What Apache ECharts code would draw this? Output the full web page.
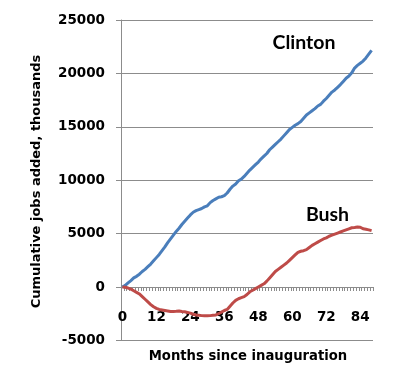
<!DOCTYPE html>
<html><head><meta charset="utf-8">
<script src="https://cdn.jsdelivr.net/npm/echarts@6/dist/echarts.min.js"></script>
<style>html,body{margin:0;padding:0;background:#fff}#c{width:400px;height:389px}</style>
</head><body><div id="c"></div>
<script>
const months = Array.from({length: 89}, (_, i) => String(i));
const clinton = [0,150,380,600,850,1000,1200,1450,1650,1900,2150,2450,2750,3050,3400,3750,4150,4500,4850,5200,5500,5850,6150,6450,6750,7000,7150,7250,7350,7500,7600,7900,8100,8250,8400,8450,8550,8800,9150,9450,9650,9950,10100,10350,10650,10950,11200,11450,11700,12000,12250,12500,12850,13100,13350,13600,13850,14150,14450,14750,14950,15150,15300,15500,15800,16100,16300,16500,16700,16950,17100,17400,17650,17950,18250,18450,18700,18950,19250,19550,19750,20050,20500,20750,20950,21150,21450,21800,22150];
const bush = [0,-30,-100,-200,-350,-500,-650,-900,-1150,-1400,-1650,-1850,-2000,-2100,-2150,-2200,-2250,-2300,-2300,-2280,-2250,-2300,-2320,-2380,-2450,-2550,-2620,-2650,-2680,-2700,-2700,-2680,-2650,-2620,-2500,-2350,-2200,-2100,-1800,-1500,-1250,-1100,-1000,-900,-700,-450,-300,-150,0,150,300,550,850,1150,1450,1650,1850,2050,2250,2500,2750,3000,3250,3350,3400,3500,3700,3900,4050,4200,4350,4500,4600,4750,4850,4950,5050,5150,5250,5350,5450,5550,5580,5620,5600,5450,5400,5350,5280];
const seriesNames = ['Clinton', 'Bush'];
const yTitle = 'Cumulative jobs added, thousands';
const xTitle = 'Months since inauguration';

const chart = echarts.init(document.getElementById('c'), null, {renderer: 'canvas'});
const gray = '#8c8c8c';
const tickFont = {fontFamily: 'DejaVu Sans', fontWeight: 'bold', fontSize: 13.5, color: '#000'};
chart.setOption({
  animation: false,
  grid: {left: 121, right: 27, top: 20, bottom: 48.6},
  xAxis: [{
    type: 'category', data: months, boundaryGap: true,
    axisLine: {onZero: true, lineStyle: {color: gray, width: 1}},
    axisTick: {show: true, interval: 0, length: 4, lineStyle: {color: gray}},
    axisLabel: {show: false},
    splitLine: {show: false}
  }, {
    type: 'category', data: months, boundaryGap: true, position: 'bottom',
    axisLine: {show: false, onZero: false},
    axisTick: {show: false},
    axisLabel: Object.assign({interval: (i) => i % 12 === 0, margin: -29.5}, tickFont),
    splitLine: {show: false}
  }],
  yAxis: {
    type: 'value', min: -5000, max: 25000, interval: 5000,
    axisLine: {show: true, lineStyle: {color: gray, width: 1}},
    axisTick: {show: true, length: 5, lineStyle: {color: gray}},
    axisLabel: Object.assign({margin: 16, formatter: (v) => String(v)}, tickFont),
    splitLine: {show: true, lineStyle: {color: gray, width: 1}}
  },
  series: [
    {name: seriesNames[0], type: 'line', xAxisIndex: 0, data: clinton, showSymbol: false, lineStyle: {color: '#4a7ebb', width: 3}, itemStyle: {color: '#4a7ebb'}},
    {name: seriesNames[1], type: 'line', xAxisIndex: 0, data: bush, showSymbol: false, lineStyle: {color: '#be4b48', width: 3}, itemStyle: {color: '#be4b48'}}
  ],
  graphic: [
    {type: 'text', x: 304, y: 43, style: {text: seriesNames[0], font: 'bold 19.5px Lato', fill: '#000', textAlign: 'center', textVerticalAlign: 'middle'}},
    {type: 'text', x: 327.5, y: 215, style: {text: seriesNames[1], font: 'bold 19.5px Lato', fill: '#000', textAlign: 'center', textVerticalAlign: 'middle'}},
    {type: 'text', x: 248, y: 356.5, style: {text: xTitle, font: 'bold 13.2px "DejaVu Sans"', fill: '#000', textAlign: 'center', textVerticalAlign: 'middle'}},
    {type: 'text', x: 36.5, y: 181.5, rotation: Math.PI / 2, style: {text: yTitle, font: 'bold 13px "DejaVu Sans"', fill: '#000', textAlign: 'center', textVerticalAlign: 'middle'}}
  ]
});
</script></body></html>
